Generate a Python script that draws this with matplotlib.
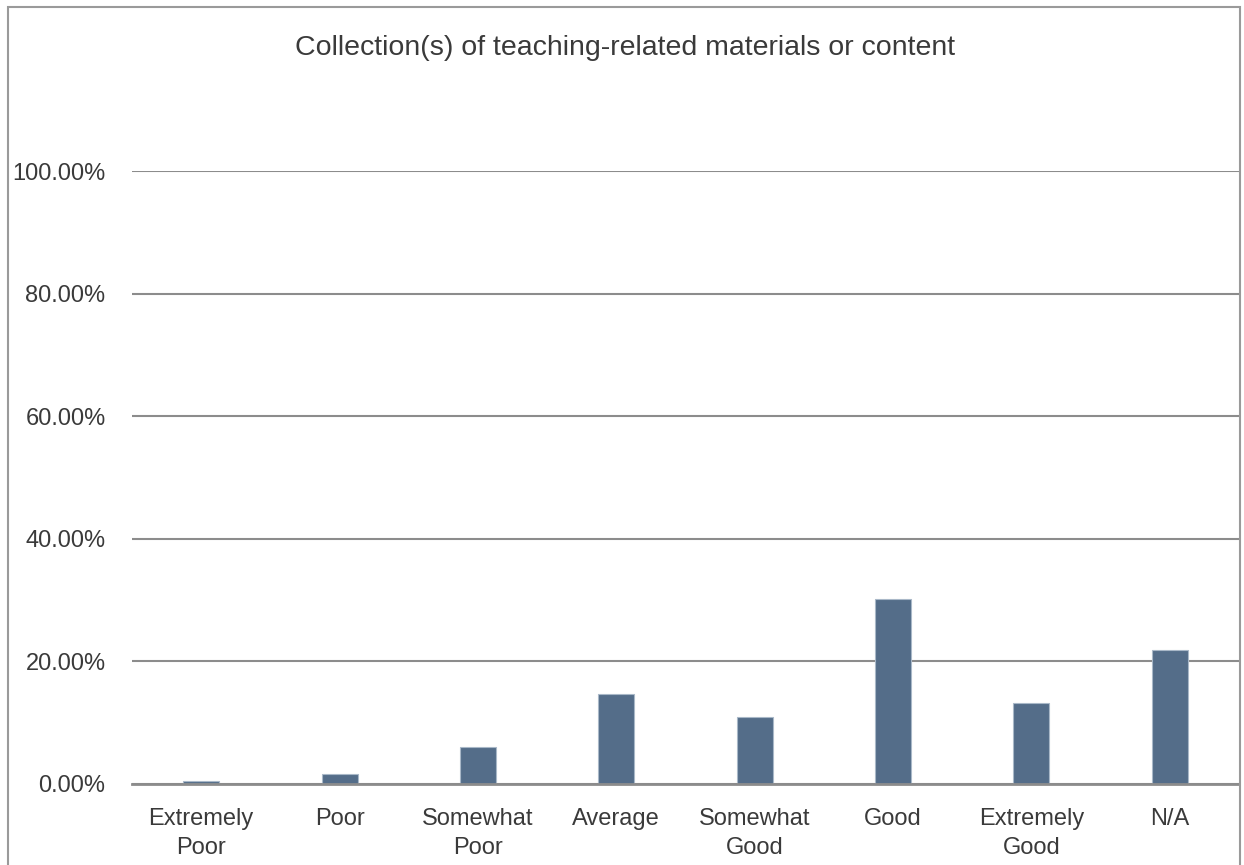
import matplotlib
matplotlib.use("Agg")
import matplotlib.pyplot as plt
from matplotlib.patches import Rectangle
from matplotlib import font_manager

categories = ["Extremely\nPoor", "Poor", "Somewhat\nPoor", "Average", "Somewhat\nGood", "Good", "Extremely\nGood", "N/A"]
values = [0.5, 1.7, 6.1, 14.75, 10.9, 30.25, 13.25, 21.85]
yticks = [0, 20, 40, 60, 80, 100]
ytick_labels = ["0.00%", "20.00%", "40.00%", "60.00%", "80.00%", "100.00%"]
title = "Collection(s) of teaching-related materials or content"

names = {f.name for f in font_manager.fontManager.ttflist}
fam = ["Liberation Sans Narrow", "Liberation Sans", "DejaVu Sans"]
fam = [f for f in fam if f in names] or ["DejaVu Sans"]
plt.rcParams["font.family"] = fam

W, H = 1244, 865
fig = plt.figure(figsize=(W / 100, H / 100), dpi=100)
fig.patches.append(Rectangle((8 / W, -0.01), (1240 - 8) / W, 1 - 7 / H + 0.01,
                             transform=fig.transFigure, fill=False,
                             edgecolor="#9a9a9a", linewidth=1.5))

ax = fig.add_axes([132 / W, 81 / H, (1239 - 132) / W, (784 - 171) / H])
x = list(range(len(categories)))
ax.bar(x, values, width=0.26, color="#546d89", edgecolor="#a9b8c8", linewidth=0.8, zorder=3)
ax.set_xlim(-0.5, len(categories) - 0.5)
ax.set_ylim(0, 100)
ax.set_yticks(yticks)
ax.set_yticklabels(ytick_labels)
ax.set_xticks(x)
ax.set_xticklabels(categories, linespacing=1.45)
for s in ["top", "right", "left"]:
    ax.spines[s].set_visible(False)
ax.spines["bottom"].set_color("#8c8c8c")
ax.spines["bottom"].set_linewidth(2)
ax.spines["bottom"].set_zorder(4)
ax.yaxis.grid(True, color="#8c8c8c", linewidth=1.5, zorder=0)
ax.tick_params(axis="both", length=0, labelsize=17, colors="#3a3a3a", labelcolor="#3a3a3a")
ax.tick_params(axis="y", pad=19)
ax.tick_params(axis="x", pad=17)
fig.text(625 / W, 1 - 48 / H, title, ha="center", va="center", fontsize=20.5, color="#3a3a3a")
fig.savefig("out.png", dpi=100)
